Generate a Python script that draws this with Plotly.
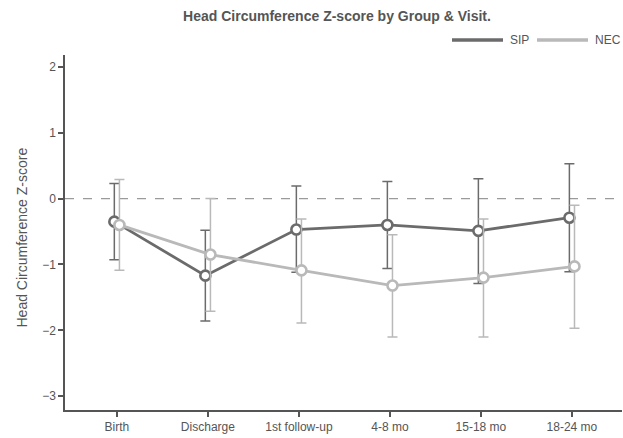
import plotly.graph_objects as go

visits = ["Birth", "Discharge", "1st follow-up", "4-8 mo", "15-18 mo", "18-24 mo"]
sip_mean = [-0.35, -1.17, -0.47, -0.40, -0.49, -0.29]
sip_upper = [0.23, -0.48, 0.19, 0.26, 0.30, 0.53]
sip_lower = [-0.93, -1.86, -1.12, -1.06, -1.29, -1.11]
nec_mean = [-0.40, -0.85, -1.09, -1.32, -1.20, -1.03]
nec_upper = [0.29, 0.00, -0.31, -0.55, -0.31, -0.10]
nec_lower = [-1.09, -1.71, -1.89, -2.10, -2.10, -1.97]
y_ticks = [-3, -2, -1, 0, 1, 2]
groups = ["SIP", "NEC"]

SIP_C = "#6b6b6b"
NEC_C = "#b9b9b9"
TXT = "#555555"
dodge = 0.028

fig = go.Figure()

def add_series(name, mean, upper, lower, color, off):
    xs = [i + off for i in range(len(visits))]
    fig.add_trace(go.Scatter(
        x=xs, y=mean, mode="lines+markers", name=name, showlegend=False,
        line=dict(color=color, width=2.8),
        marker=dict(symbol="circle", size=10, color="white",
                    line=dict(color=color, width=2.6)),
        error_y=dict(type="data", symmetric=False,
                     array=[u - m for u, m in zip(upper, mean)],
                     arrayminus=[m - l for m, l in zip(mean, lower)],
                     color=color, thickness=1.5, width=5),
    ))

add_series(groups[0], sip_mean, sip_upper, sip_lower, SIP_C, -dodge)
add_series(groups[1], nec_mean, nec_upper, nec_lower, NEC_C, dodge)

fig.add_hline(y=0, line=dict(color="#9a9a9a", width=1.2, dash="dash"), layer="below")

# manual legend (paper coordinates) to get the long line swatches
L, R, T, B = 65, 1, 55, 28
pw, ph = 623 - L - R, 438 - T - B
def px(x):
    return (x - L) / pw
def py(y):
    return (438 - B - y) / ph
leg = [(groups[0], SIP_C, 452, 503, 508), (groups[1], NEC_C, 537, 588, 593)]
for name, col, x0, x1, tx in leg:
    fig.add_shape(type="line", xref="paper", yref="paper",
                  x0=px(x0), x1=px(x1), y0=py(40), y1=py(40),
                  line=dict(color=col, width=3.5))
    fig.add_annotation(xref="paper", yref="paper", x=px(tx), y=py(40),
                       xanchor="left", yanchor="middle", showarrow=False,
                       text=name, font=dict(size=12, color=TXT))

# y-axis title
fig.add_annotation(xref="paper", yref="paper", x=px(21), y=py(237.5),
                   xanchor="center", yanchor="middle", showarrow=False, textangle=-90,
                   text="Head Circumference Z-score", font=dict(size=14, color=TXT))

fig.update_layout(
    width=623, height=438,
    margin=dict(l=L, r=R, t=T, b=B),
    plot_bgcolor="white", paper_bgcolor="white",
    showlegend=False,
    font=dict(family="Liberation Sans, Arial, sans-serif", color=TXT, size=12),
    title=dict(text="<b>Head Circumference Z-score by Group & Visit.</b>",
               x=337 / 623, xanchor="center", y=1 - 16 / 438, yanchor="middle",
               font=dict(size=14, color=TXT)),
    xaxis=dict(range=[-0.57, 5.55], tickvals=list(range(len(visits))), ticktext=visits,
               showgrid=False, zeroline=False, showline=True, linecolor=TXT, linewidth=1.5,
               ticks="outside", ticklen=5, tickcolor=TXT, tickwidth=1.5,
               tickfont=dict(size=12, color=TXT)),
    yaxis=dict(range=[-3.21, 2.18], tickvals=y_ticks,
               showgrid=False, zeroline=False, showline=True, linecolor=TXT, linewidth=1.5,
               ticks="outside", ticklen=5, tickcolor=TXT, tickwidth=1.5,
               tickfont=dict(size=12, color=TXT)),
)

fig.write_html("out.html")
